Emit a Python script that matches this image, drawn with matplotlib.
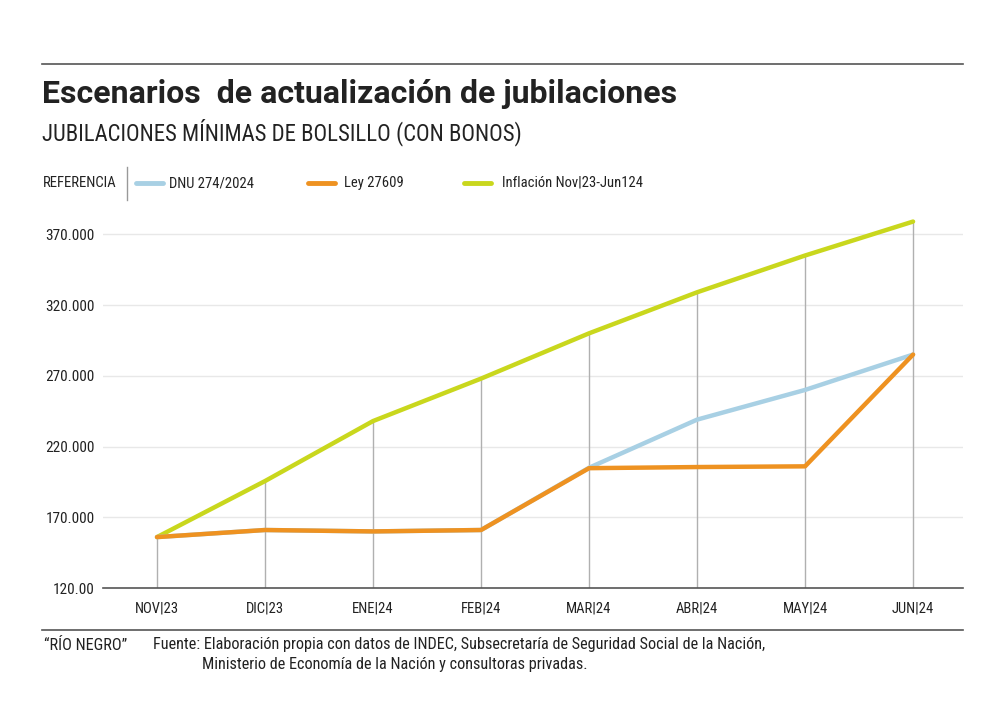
import matplotlib
matplotlib.use('Agg')
import matplotlib.pyplot as plt
from matplotlib.lines import Line2D

meses = ['NOV|23', 'DIC|23', 'ENE|24', 'FEB|24', 'MAR|24', 'ABR|24', 'MAY|24', 'JUN|24']
# valores en miles de pesos
dnu = [156, 161, 160, 161, 205, 239, 260, 285]
ley = [156, 161, 160, 161, 204.7, 205.5, 206, 285]
inflacion = [156, 195.6, 238, 268, 300, 329, 355, 379]
yticks = [120, 170, 220, 270, 320, 370]
ytick_labels = ['120.00', '170.000', '220.000', '270.000', '320.000', '370.000']

c_dnu = '#a8d0e4'
c_ley = '#ee9221'
c_inf = '#c9d71d'
txt = '#222222'
narrow = ['Roboto Condensed', 'Liberation Sans Narrow', 'Roboto', 'DejaVu Sans']


def main():
  fig = plt.figure(figsize=(10.06, 7.2), dpi=100)
  ax = fig.add_axes([0.1024, 0.1833, 0.8546, 0.5306])

  x = list(range(len(meses)))
  for i in x:
    ax.plot([i, i], [120, inflacion[i]], color='#b0b0b0', linewidth=1, zorder=1)
  for v in yticks[1:]:
    ax.axhline(v, color='#e8e8e8', linewidth=1, zorder=0)

  ax.plot(x, inflacion, color=c_inf, linewidth=3.2, solid_capstyle='round', zorder=3)
  ax.plot(x, dnu, color=c_dnu, linewidth=3.2, solid_capstyle='round', zorder=3)
  ax.plot(x, ley, color=c_ley, linewidth=3.2, solid_capstyle='round', zorder=4)

  ax.set_xlim(-0.5, 7.46)
  ax.set_ylim(120, 390)
  ax.set_xticks(x)
  ax.set_xticklabels(meses, family=narrow, fontsize=10.5, color=txt)
  ax.set_yticks(yticks)
  ax.set_yticklabels(ytick_labels, family=narrow, fontsize=11, color=txt)
  ax.tick_params(length=0, pad=10)
  ax.tick_params(axis='y', pad=6)
  for s in ['top', 'right', 'left']:
    ax.spines[s].set_visible(False)
  ax.spines['bottom'].set_color('#555555')
  ax.spines['bottom'].set_linewidth(1.2)

  # reglas horizontales
  fig.add_artist(Line2D([42/1006, 963/1006], [1-64/720, 1-64/720], color='#555555', linewidth=1.2))
  fig.add_artist(Line2D([42/1006, 963/1006], [1-630/720, 1-630/720], color='#555555', linewidth=1.2))

  fig.text(42/1006, 1-94/720, 'Escenarios  de actualización de jubilaciones', fontsize=23,
           fontweight='bold', family=['Roboto', 'DejaVu Sans'], color=txt, va='center')
  fig.text(42/1006, 1-132/720, 'JUBILACIONES MÍNIMAS DE BOLSILLO (CON BONOS)', fontsize=16.4,
           family=narrow, color=txt, va='center')

  # leyenda
  ly = 1-183/720
  fig.text(43/1006, ly, 'REFERENCIA', fontsize=10.6, family=narrow, color=txt, va='center')
  fig.add_artist(Line2D([127/1006, 127/1006], [1-167/720, 1-200/720], color='#999999', linewidth=1))
  items = [(136, 169, c_dnu, 'DNU 274/2024'), (308, 344, c_ley, 'Ley 27609'),
           (464, 502, c_inf, 'Inflación Nov|23-Jun124')]
  for x0, xt, c, lab in items:
    fig.add_artist(Line2D([x0/1006, (x0+27)/1006], [ly, ly], color=c, linewidth=3.5, solid_capstyle='round'))
    fig.text(xt/1006, ly, lab, fontsize=10.5, family=narrow, color=txt, va='center')

  # pie
  fig.text(44/1006, 1-645/720, '“RÍO NEGRO”', fontsize=11.7, family=narrow, color=txt, va='center')
  fig.text(153/1006, 1-645/720, 'Fuente: Elaboración propia con datos de INDEC, Subsecretaría de Seguridad Social de la Nación,',
           fontsize=11.7, family=narrow, color=txt, va='center')
  fig.text(202/1006, 1-664/720, 'Ministerio de Economía de la Nación y consultoras privadas.',
           fontsize=11.7, family=narrow, color=txt, va='center')

  plt.savefig('out.png', dpi=100)


if __name__ == '__main__':
  main()
